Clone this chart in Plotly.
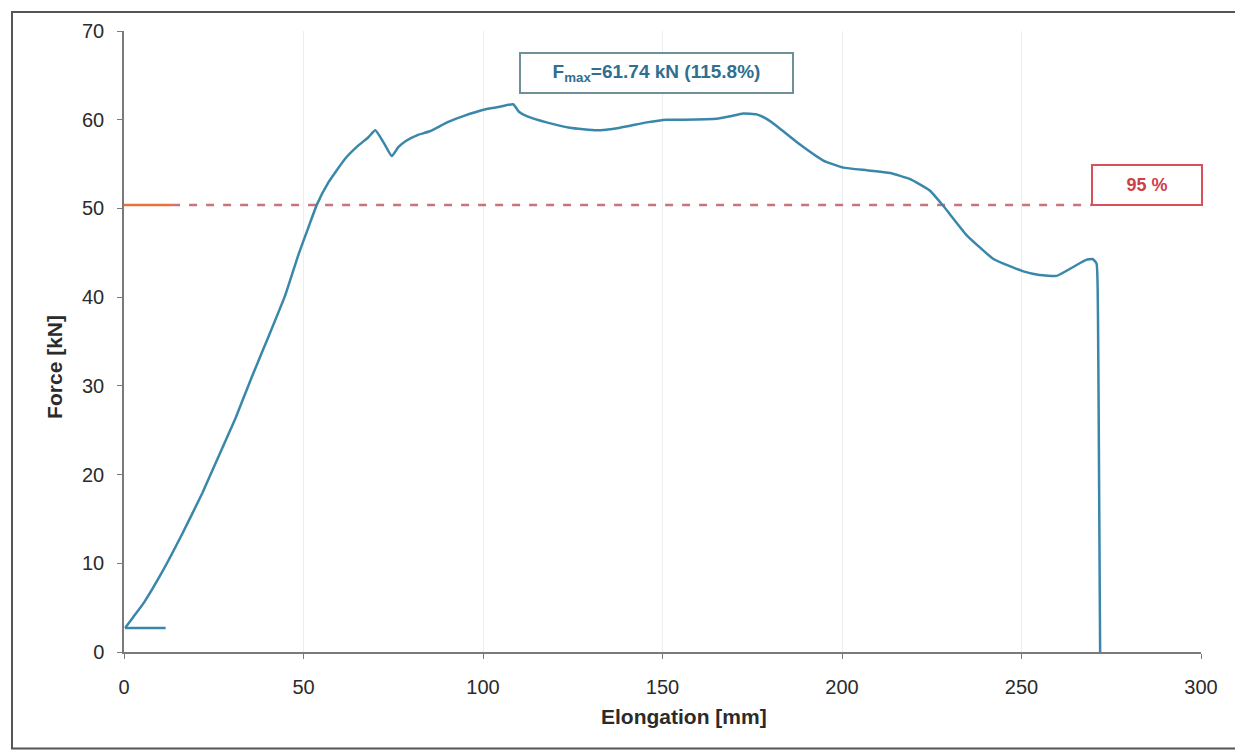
import plotly.graph_objects as go

# Force–elongation curve
elongation_mm = [11.6, 0.3, 2.5, 5.6, 10.6, 16.2, 21.8, 26.4, 31.0, 35.6, 40.3, 44.9, 48.6, 51.4,
                 53.7, 56.9, 61.6, 65.3, 68.0, 70.0, 72.5, 74.6, 76.4, 78.5, 81.9, 85.2, 90.0,
                 94.5, 101.0, 105.0, 108.4, 110.0, 112.2, 117.7, 124.2, 131.7, 138.2, 145.6,
                 151.2, 155.8, 165.1, 169.0, 172.5, 176.2, 178.5, 181.8, 188.3, 194.8, 200.4,
                 206.9, 213.4, 219.0, 224.5, 228.2, 234.7, 242.2, 250.5, 255.0, 259.8, 264.4,
                 268.0, 269.8, 270.9, 271.3, 271.6, 271.9]
force_kn = [2.7, 2.7, 3.9, 5.6, 9.0, 13.3, 17.9, 22.1, 26.3, 31.0, 35.6, 40.2, 44.8, 47.9,
            50.4, 52.9, 55.6, 57.1, 58.0, 58.8, 57.3, 55.9, 56.9, 57.6, 58.3, 58.7, 59.7,
            60.4, 61.2, 61.5, 61.74, 60.9, 60.4, 59.7, 59.1, 58.8, 59.1, 59.7, 60.0, 60.0,
            60.1, 60.4, 60.7, 60.6, 60.2, 59.3, 57.2, 55.4, 54.6, 54.3, 54.0, 53.3, 52.0,
            50.3, 47.0, 44.3, 42.9, 42.5, 42.4, 43.4, 44.2, 44.3, 43.8, 38.0, 20.0, 0.0]

# 95 % reference level
level_95_kn = 50.4
level_solid_x = [0, 13.4]
level_dash_x = [13.4, 269.5]

# Labels
fmax_label = "F<sub>max</sub>=61.74 kN (115.8%)"
fmax_pos = (148.3, 65.3)
pct_label = "95 %"
pct_pos = (284.9, 52.6)

x_ticks = [0, 50, 100, 150, 200, 250, 300]
y_ticks = [0, 10, 20, 30, 40, 50, 60, 70]

FONT = "Liberation Sans, Arial, sans-serif"
TXT = "#2b2b2b"
CURVE = "#3a87aa"

fig = go.Figure()
fig.add_trace(go.Scatter(
    x=level_dash_x, y=[level_95_kn] * 2, mode="lines",
    line=dict(color="#c57480", width=2.5, dash="8px,9px"), hoverinfo="skip"))
fig.add_trace(go.Scatter(
    x=level_solid_x, y=[level_95_kn] * 2, mode="lines",
    line=dict(color="#e8743b", width=2.5), hoverinfo="skip"))
# initial base segment of the curve
fig.add_trace(go.Scatter(
    x=elongation_mm[:2], y=force_kn[:2], mode="lines",
    line=dict(color=CURVE, width=2.5)))
# main curve
fig.add_trace(go.Scatter(
    x=elongation_mm[1:], y=force_kn[1:], mode="lines",
    line=dict(color=CURVE, width=2.5, shape="spline", smoothing=0.4)))

fig.update_layout(
    width=1235, height=745,
    margin=dict(l=116, r=42, t=20, b=101),
    paper_bgcolor="white", plot_bgcolor="white",
    showlegend=False,
    font=dict(family=FONT, color=TXT),
    xaxis=dict(range=[0, 300], tickvals=x_ticks, showgrid=True, gridcolor="#eceff2",
               gridwidth=1, zeroline=False, showline=True, linecolor="#7a7a7a", linewidth=1.5,
               ticks="outside", ticklen=5, tickcolor="#7a7a7a",
               tickfont=dict(size=20, color=TXT), ticklabelstandoff=11),
    yaxis=dict(range=[0, 70], tickvals=y_ticks, showgrid=False, zeroline=False,
               showline=True, linecolor="#7a7a7a", linewidth=1.5,
               ticks="outside", ticklen=5, tickcolor="#7a7a7a",
               tickfont=dict(size=20, color=TXT), ticklabelstandoff=9),
    annotations=[
        dict(x=fmax_pos[0], y=fmax_pos[1], xref="x", yref="y", text="<b>" + fmax_label + "</b>",
             showarrow=False, font=dict(size=19, color="#2f6f8f", family=FONT),
             bordercolor="#6f8f99", borderwidth=2, width=269, height=36, bgcolor="white"),
        dict(x=pct_pos[0], y=pct_pos[1], xref="x", yref="y", text="<b>" + pct_label + "</b>",
             showarrow=False, font=dict(size=18, color="#d0404a", family=FONT),
             bordercolor="#d9505a", borderwidth=2, width=106, height=36, bgcolor="white"),
        dict(x=(684 - 124) / 1077, y=(652 - 730) / 624, xref="paper", yref="paper",
             text="<b>Elongation [mm]</b>", showarrow=False,
             font=dict(size=21, color=TXT, family=FONT)),
        dict(x=(41 - 124) / 1077, y=(652 - 365) / 624, xref="paper", yref="paper",
             text="<b>Force [kN]</b>", showarrow=False, textangle=-90,
             font=dict(size=21, color=TXT, family=FONT)),
    ],
    shapes=[
        dict(type="rect", xref="paper", yref="paper",
             x0=(12 - 124) / 1077, x1=(1239 - 124) / 1077,
             y0=(652 - 749) / 624, y1=(652 - 9) / 624,
             line=dict(color="#555555", width=2), fillcolor="rgba(0,0,0,0)", layer="below"),
    ],
)

fig.write_html("out.html")
